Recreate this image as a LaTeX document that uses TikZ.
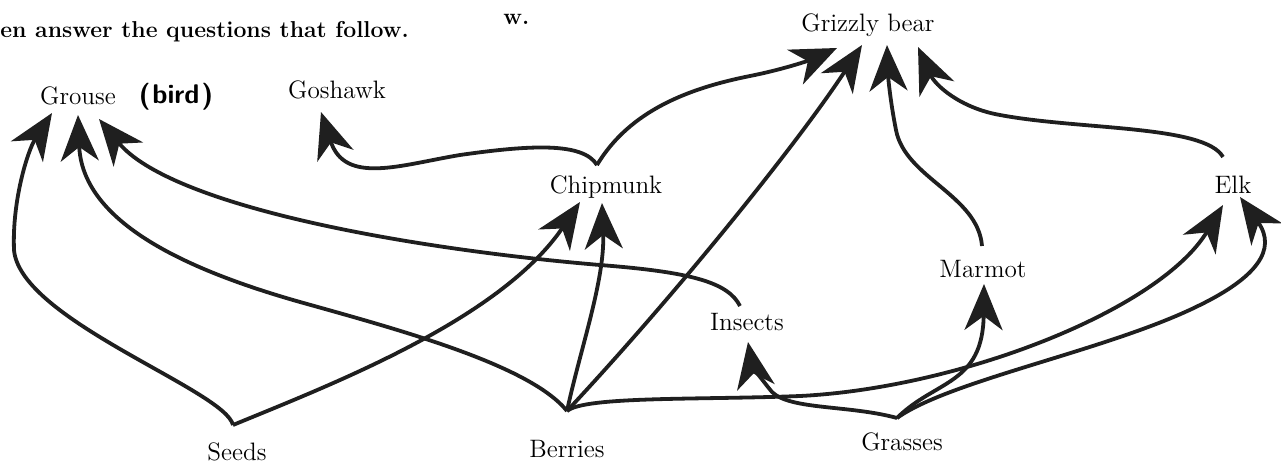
\documentclass[tikz,border=0pt]{standalone}
\usetikzlibrary{arrows.meta}
\begin{document}
\begin{tikzpicture}[x=0.5pt,y=-0.5pt,
  lab/.style={font=\fontsize{12.6}{15}\selectfont, inner sep=0pt, anchor=base},
  hdr/.style={font=\fontsize{11.5}{13}\selectfont\bfseries, inner sep=0pt, anchor=base west},
  hand/.style={font=\fontsize{13.5}{15}\selectfont\sffamily\bfseries, inner sep=0pt, anchor=base},
  link/.style={line width=1.9pt, draw=black!88, -{Stealth[length=23pt,width=19pt,inset=7pt]}}]
\useasboundingbox (0,0) rectangle (1281,466);

% header text
\node[hdr] (head) at (0,37) {en answer the questions that follow.};
\node[hdr] (headw) at (503,25) {w.};

% labels
\node[lab] (grouse) at (78,104) {Grouse};
\node[hand] (bird) at (176,103) {(\kern1pt bird\kern1pt)};
\node[lab] (goshawk) at (337,98) {Goshawk};
\node[lab] (grizzly) at (868,32) {Grizzly bear};
\node[lab] (chipmunk) at (606,193) {Chipmunk};
\node[lab] (elk) at (1233,193) {Elk};
\node[lab] (marmot) at (983,277) {Marmot};
\node[lab] (insects) at (747,330) {Insects};
\node[lab] (seeds) at (237,460) {Seeds};
\node[lab] (berries) at (567,457) {Berries};
\node[lab] (grasses) at (902,450) {Grasses};

% connection points
\coordinate (seedsP) at (233,425);
\coordinate (berriesP) at (567,411);
\coordinate (grassesP) at (897,418);
\coordinate (chipP) at (597,165);
\coordinate (insectsP) at (740,306);
\coordinate (marmotP) at (982,246);
\coordinate (elkP) at (1223,157);
\coordinate (grouseA) at (52,113);
\coordinate (grouseB) at (78,115);
\coordinate (grouseC) at (99,119);
\coordinate (goshT) at (321,112);
\coordinate (chipA) at (580,202);
\coordinate (chipB) at (602,203);
\coordinate (grizA) at (837,48);
\coordinate (grizB) at (862,45);
\coordinate (grizC) at (887,45);
\coordinate (grizD) at (918,47);
\coordinate (elkA) at (1223,205);
\coordinate (elkB) at (1240,197);
\coordinate (marmotT) at (984,284);
\coordinate (insectsT) at (748,342);

% connectors
\draw[link] (seedsP) .. controls (225,390) and (20,320) .. (14,250)
  .. controls (12,200) and (28,150) .. (grouseA);
\draw[link] (berriesP) .. controls (530,365) and (400,330) .. (300,302)
  .. controls (180,268) and (82,220) .. (grouseB);
\draw[link] (insectsP) .. controls (728,282) and (690,272) .. (600,265)
  .. controls (400,248) and (170,205) .. (grouseC);
\draw[link] (seedsP) .. controls (330,385) and (500,320) .. (chipA);
\draw[link] (berriesP) .. controls (580,350) and (605,280) .. (chipB);
\draw[link] (berriesP) .. controls (680,290) and (800,140) .. (grizB);
\draw[link] (chipP) .. controls (583,142) and (530,145) .. (460,155)
  .. controls (400,165) and (345,185) .. (goshT);
\draw[link] (chipP) .. controls (630,110) and (690,88) .. (750,76)
  .. controls (790,68) and (815,58) .. (grizA);
\draw[link] (marmotP) .. controls (978,195) and (905,178) .. (896,130)
  .. controls (890,100) and (888,75) .. (grizC);
\draw[link] (elkP) .. controls (1205,125) and (1080,130) .. (1000,115)
  .. controls (960,108) and (935,85) .. (grizD);
\draw[link] (berriesP) .. controls (585,396) and (700,400) .. (800,396)
  .. controls (960,388) and (1160,310) .. (elkA);
\draw[link] (grassesP) .. controls (950,380) and (1110,350) .. (1200,305)
  .. controls (1255,278) and (1278,250) .. (elkB);
\draw[link] (grassesP) .. controls (935,380) and (983,385) .. (marmotT);
\draw[link] (grassesP) .. controls (850,405) and (790,410) .. (772,392)
  .. controls (762,380) and (752,365) .. (insectsT);
\end{tikzpicture}
\end{document}
